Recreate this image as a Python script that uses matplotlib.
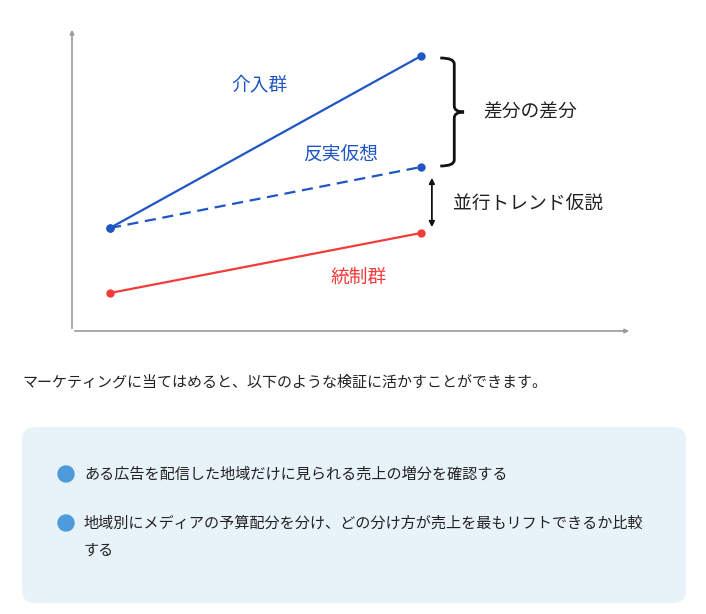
import numpy as np
import matplotlib.pyplot as plt
from matplotlib.patches import FancyBboxPatch, Circle
from matplotlib.path import Path
from matplotlib.patches import PathPatch

plt.rcParams['font.family'] = ['Noto Sans CJK JP', 'DejaVu Sans']

# data: two periods (before / after)
periods = [0, 1]
treated = [1.03, 2.75]
counterfactual = [1.03, 1.64]
control = [0.38, 0.98]

labels = ["介入群", "反実仮想", "統制群", "差分の差分", "並行トレンド仮説"]
intro = "マーケティングに当てはめると、以下のような検証に活かすことができます。"
bullets = [["ある広告を配信した地域だけに見られる売上の増分を確認する"],
           ["地域別にメディアの予算配分を分け、どの分け方が売上を最もリフトできるか比較", "する"]]

BLUE = "#1f56c3"
RED = "#f43b3b"
GRAY = "#9a9a9a"

W, H = 706, 614
fig = plt.figure(figsize=(W / 100, H / 100), dpi=100)

# background axes in pixel coordinates
bg = fig.add_axes([0, 0, 1, 1])
bg.set_xlim(0, W)
bg.set_ylim(H, 0)
bg.axis("off")

# chart axes: left 72px, top 27px, right 632px, bottom 331px
ax = fig.add_axes([72 / W, 1 - 331 / H, (632 - 72) / W, (331 - 27) / H])
ax.set_xlim(-38 / 311, 522 / 311)
ax.set_ylim(0, 3.04)
for s in ax.spines.values():
    s.set_visible(False)
ax.set_xticks([])
ax.set_yticks([])
ax.patch.set_alpha(0)

# axes arrows
ax.annotate("", xy=(1, 0), xytext=(0, 0), xycoords="axes fraction",
            arrowprops=dict(arrowstyle="-|>", color=GRAY, lw=1.2, mutation_scale=6))
ax.annotate("", xy=(0, 1), xytext=(0, 0), xycoords="axes fraction",
            arrowprops=dict(arrowstyle="-|>", color=GRAY, lw=1.2, mutation_scale=6))

ax.plot(periods, treated, color=BLUE, lw=1.6, marker="o", ms=5)
ax.plot(periods, counterfactual, color=BLUE, lw=1.6, ls=(0, (5, 3)), marker="o", ms=5)
ax.plot(periods, control, color=RED, lw=1.6, marker="o", ms=5)

fs = 13.5
ax.text(0.48, 2.46, labels[0], color=BLUE, fontsize=fs, ha="center", va="center")
ax.text(0.74, 1.76, labels[1], color=BLUE, fontsize=fs, ha="center", va="center")
ax.text(0.80, 0.54, labels[2], color=RED, fontsize=fs, ha="center", va="center")

# curly brace between treated post and counterfactual post
x0 = periods[1] + 0.062
top, bot = treated[1] - 0.02, counterfactual[1] + 0.01
mid = (top + bot) / 2
w = 0.045
d = 0.06
verts = [(x0, top), (x0 + w, top), (x0 + w, top - d),
         (x0 + w, mid + d), (x0 + w, mid), (x0 + w * 1.7, mid),
         (x0 + w, mid), (x0 + w, mid - d),
         (x0 + w, bot + d), (x0 + w, bot), (x0, bot)]
codes = [Path.MOVETO, Path.CURVE3, Path.CURVE3,
         Path.LINETO, Path.CURVE3, Path.CURVE3,
         Path.CURVE3, Path.CURVE3,
         Path.LINETO, Path.CURVE3, Path.CURVE3]
ax.add_patch(PathPatch(Path(verts, codes), fill=False, color="#111111", lw=2.0))
ax.text(x0 + 0.29, mid, labels[3], fontsize=fs, ha="center", va="center", color="#222222")

# double arrow for parallel trend
xa = periods[1] + 0.035
ax.annotate("", xy=(xa, control[1] + 0.03), xytext=(xa, counterfactual[1] - 0.08),
            arrowprops=dict(arrowstyle="<|-|>", color="#111111", lw=1.3, mutation_scale=8))
ax.text(xa + 0.31, (counterfactual[1] + control[1]) / 2 - 0.04, labels[4],
        fontsize=fs, ha="center", va="center", color="#222222")

# body text
bg.text(22, 382, intro, fontsize=10.8, ha="left", va="center", color="#222222")

box = FancyBboxPatch((22 + 13, 427 + 13), 664 - 26, 176 - 26,
                     boxstyle="round,pad=13", facecolor="#e8f2f9", edgecolor="none")
bg.add_patch(box)

ys = [474, 523]
for y, lines in zip(ys, bullets):
    bg.add_patch(Circle((66, y), 8, color="#4e9bdb"))
    for i, t in enumerate(lines):
        bg.text(84, y + 27 * i, t, fontsize=10.9, ha="left", va="center", color="#222222")

plt.savefig("out.png", dpi=100)
